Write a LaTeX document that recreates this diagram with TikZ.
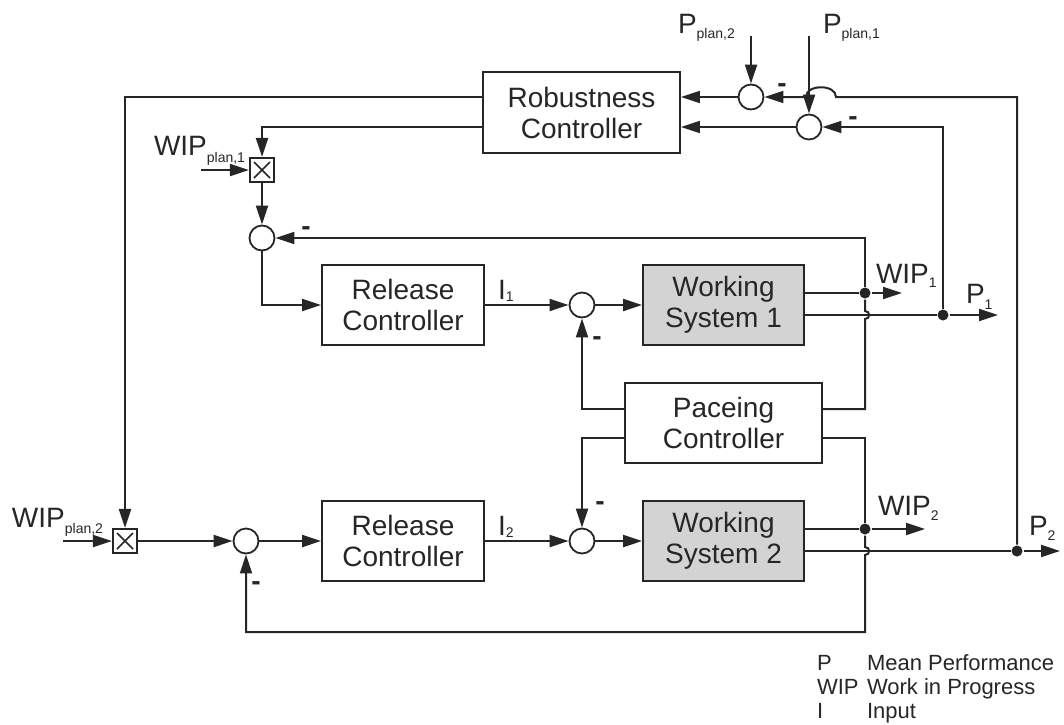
\documentclass[tikz,border=0pt]{standalone}
\usepackage{fontspec}
\setmainfont{Liberation Sans}
\usetikzlibrary{arrows.meta}
\definecolor{lc}{HTML}{262626}
\definecolor{wsfill}{HTML}{D3D3D3}
\newcommand\mysub[2]{\raisebox{-#1pt}{\fontsize{14}{14}\selectfont #2}}
\begin{document}
\begin{tikzpicture}[x=1pt,y=-1pt,color=lc,line width=2pt,
  block/.style={draw,rectangle,line width=1.8pt,inner sep=0pt,minimum height=80pt,align=center,
    font=\fontsize{28}{31}\selectfont},
  sumj/.style={draw,circle,minimum size=25pt,inner sep=0pt,fill=white,line width=1.8pt},
  mult/.style={draw,rectangle,minimum size=24pt,inner sep=0pt,fill=white,line width=2.2pt,
    path picture={\draw[line width=1.6pt]
      ([shift={(4pt,4pt)}]path picture bounding box.south west) -- ([shift={(-4pt,-4pt)}]path picture bounding box.north east)
      ([shift={(4pt,-4pt)}]path picture bounding box.north west) -- ([shift={(-4pt,4pt)}]path picture bounding box.south east);}},
  jdot/.style={circle,fill,inner sep=0pt,minimum size=11pt},
  arr/.style={-{Triangle[length=19pt,width=12pt]}},
  lbl/.style={anchor=base west,inner sep=0pt,font=\fontsize{28}{28}\selectfont},
  minus/.style={anchor=base,inner sep=0pt,font=\fontsize{28}{28}\selectfont\bfseries},
  leg/.style={anchor=base west,inner sep=0pt,font=\fontsize{22}{22}\selectfont}]
\useasboundingbox (0,0) rectangle (1064,724);

% blocks
\node[block,minimum width=197pt,minimum height=81pt] (rob) at (581.5,112.5) {Robustness\\Controller};
\node[block,minimum width=162pt] (rel1) at (403,305) {Release\\Controller};
\node[block,minimum width=161pt,fill=wsfill] (ws1) at (723.5,305) {Working\\System 1};
\node[block,minimum width=197pt] (pace) at (723.5,423) {Paceing\\Controller};
\node[block,minimum width=162pt] (rel2) at (403,541) {Release\\Controller};
\node[block,minimum width=161pt,fill=wsfill] (ws2) at (723.5,541) {Working\\System 2};

% summing junctions and multipliers
\node[sumj] (s1) at (751,97) {};
\node[sumj] (s2) at (809,127) {};
\node[sumj] (s3) at (262,238) {};
\node[sumj] (s4) at (582,305) {};
\node[sumj] (s5) at (582,541) {};
\node[sumj] (s6) at (246,541) {};
\node[mult] (m1) at (262,170) {};
\node[mult] (m2) at (125,541) {};

% junction dots
\node[jdot] (d1) at (865,293) {};
\node[jdot] (d2) at (943,315) {};
\node[jdot] (d3) at (865,529) {};
\node[jdot] (d4) at (1017,551) {};

% free ends
\coordinate (pp2) at (751,36);
\coordinate (pp1) at (809,36);
\coordinate (wp1) at (201,170);
\coordinate (wp2) at (63,541);
\coordinate (wipo1) at (902,293);
\coordinate (p1o) at (998,315);
\coordinate (wipo2) at (925,529);
\coordinate (p2o) at (1060,551);

% top part
\draw[arr] (pp2) -- (s1);
\draw[arr] (s1) -- (s1 -| rob.east);
\draw[arr] (s2) -- (s2 -| rob.east);
\draw[arr] (d4) -- (d4 |- s1) -- (836,97) .. controls (836,84) and (806,84) .. (806,97) -- (s1);
\draw[arr] (pp1) -- (s2);
\draw[arr] (d2) -- (d2 |- s2) -- (s2);
\draw[arr] (rob.west |- s1) -- (m2 |- s1) -- (m2);
\draw[arr] (rob.west |- s2) -- (m1 |- s2) -- (m1);
\draw[arr] (wp1) -- (m1);
\draw[arr] (m1) -- (s3);
\draw[arr] (d1) -- (d1 |- s3) -- (s3);

% loop 1
\draw[arr] (s3) |- (rel1);
\draw[arr] (rel1) -- (s4);
\draw[arr] (s4) -- (ws1);
\draw (ws1.east |- d1) -- (d1);
\draw[arr] (d1) -- (wipo1);
\draw (ws1.east |- d2) -- (d2);
\draw[arr] (d2) -- (p1o);
\draw (d1) -- (865,311) .. controls (870.5,311) and (870.5,319) .. (865,319) -- (865,409) -- ([yshift=14pt]pace.east);
\draw[arr] ([yshift=14pt]pace.west) -| (s4);

% loop 2
\draw ([yshift=-15pt]pace.east) -- (865,438) -- (d3);
\draw[arr] ([yshift=-15pt]pace.west) -| (s5);
\draw[arr] (wp2) -- (m2);
\draw[arr] (m2) -- (s6);
\draw[arr] (s6) -- (rel2);
\draw[arr] (rel2) -- (s5);
\draw[arr] (s5) -- (ws2);
\draw (ws2.east |- d3) -- (d3);
\draw[arr] (d3) -- (wipo2);
\draw (ws2.east |- d4) -- (d4);
\draw[arr] (d4) -- (p2o);
\draw[arr] (d3) -- (865,547) .. controls (870.5,547) and (870.5,555) .. (865,555) -- (865,632) -| (s6);

% minus signs
\node[minus] (n1) at (782,92.5) {-};
\node[minus] (n2) at (853,125.5) {-};
\node[minus] (n3) at (306,235.5) {-};
\node[minus] (n4) at (597,345.5) {-};
\node[minus] (n5) at (600,510.5) {-};
\node[minus] (n6) at (256,590.5) {-};

% labels
\node[lbl] (lpp2) at (677,33) {P\mysub{5}{plan,2}};
\node[lbl] (lpp1) at (822,33) {P\mysub{5}{plan,1}};
\node[lbl] (lwp1) at (153,155) {WIP\mysub{7}{plan,1}};
\node[lbl] (lwp2) at (11,527) {WIP\mysub{6}{plan,2}};
\node[lbl] (li1) at (497,299) {I\mysub{2}{1}};
\node[lbl] (li2) at (497,535) {I\mysub{2}{2}};
\node[lbl] (lw1) at (875,283) {WIP\mysub{4}{1}};
\node[lbl] (lpo1) at (965,303) {P\mysub{6}{1}};
\node[lbl] (lw2) at (877,515) {WIP\mysub{5}{2}};
\node[lbl] (lpo2) at (1028,535) {P\mysub{5}{2}};

% legend
\node[leg] (k1) at (816,670) {P};
\node[leg] (v1) at (866,670) {Mean Performance};
\node[leg] (k2) at (816,694) {WIP};
\node[leg] (v2) at (866,694) {Work in Progress};
\node[leg] (k3) at (816,718) {I};
\node[leg] (v3) at (866,718) {Input};
\end{tikzpicture}
\end{document}
